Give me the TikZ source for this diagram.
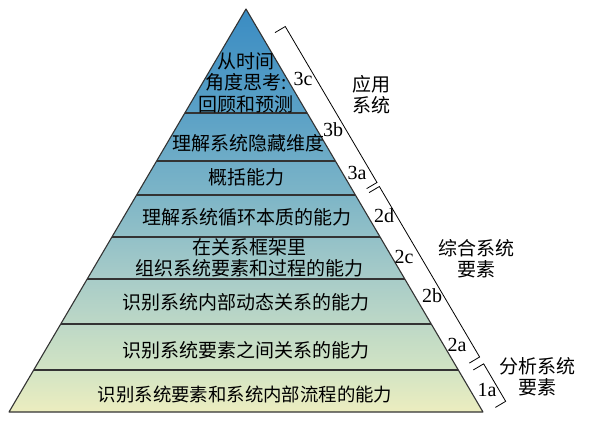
\documentclass[tikz,border=0pt]{standalone}
\usepackage{fontspec}
\setmainfont{Liberation Serif}
\newfontfamily\cjk{Noto Sans CJK SC}
\usetikzlibrary{calc}

\definecolor{pyrA}{HTML}{ECEDBF}
\definecolor{pyrB}{HTML}{D2E4C4}
\definecolor{pyrC}{HTML}{A8CCC8}
\definecolor{pyrD}{HTML}{7DB5C7}
\definecolor{pyrE}{HTML}{5BA1C6}
\definecolor{pyrF}{HTML}{3A8CC3}
\pgfdeclareverticalshading{pyrshade}{100bp}{color(0bp)=(pyrA); color(25bp)=(pyrA);
  color(30.2bp)=(pyrB); color(41.5bp)=(pyrC); color(51.9bp)=(pyrD);
  color(62.1bp)=(pyrE); color(75bp)=(pyrF); color(100bp)=(pyrF)}

\tikzset{
  layertext/.style={font=\cjk\fontsize{19}{21.5}\selectfont, align=center, inner sep=0pt},
  grouptext/.style={font=\cjk\fontsize{19}{21}\selectfont, align=center, inner sep=0pt},
  lvl/.style={font=\fontsize{20}{20}\selectfont, inner sep=0pt},
  divider/.style={draw=black!80, line width=1.1pt, line join=round},
  brk/.style={draw=black, line width=0.8pt},
}

\begin{document}
\begin{tikzpicture}[x=1pt, y=-1pt]
    \useasboundingbox (0,0) rectangle (589,422);

    % Corners of the pyramid
    \coordinate (apex) at (246,9);
    \coordinate (bl) at (9,412);
    \coordinate (br) at (483,412);

    % Shaded body
    \shade[shading=pyrshade] (apex) -- (br) -- (bl) -- cycle;

    % Layer dividers
    \foreach \h in {113,161,195,237,279,324,370} {
        \pgfmathsetmacro\tpos{(\h-9)/403}
        \draw[divider] ($(apex)!\tpos!(bl)$) -- ($(apex)!\tpos!(br)$);
    }
    \draw[divider] (apex) -- (br) -- (bl) -- cycle;

    % Layer texts
    \node[layertext] (t3c) at (246,82.5) {从时间\\角度思考:\\回顾和预测};
    \node[layertext] (t3b) at (248,143) {理解系统隐藏维度};
    \node[layertext] (t3a) at (246,177) {概括能力};
    \node[layertext] (t2d) at (247,217) {理解系统循环本质的能力};
    \node[layertext] (t2c) at (249,258) {在关系框架里\\组织系统要素和过程的能力};
    \node[layertext] (t2b) at (246,302) {识别系统内部动态关系的能力};
    \node[layertext] (t2a) at (246,350) {识别系统要素之间关系的能力};
    \node[layertext, font=\cjk\fontsize{18.4}{20}\selectfont] (t1a) at (245,395) {识别系统要素和系统内部流程的能力};

    % Level labels along the right edge
    \node[lvl] (n3c) at (303,79) {3c};
    \node[lvl] (n3b) at (333,130) {3b};
    \node[lvl] (n3a) at (357,173) {3a};
    \node[lvl] (n2d) at (384,216) {2d};
    \node[lvl] (n2c) at (404,257) {2c};
    \node[lvl] (n2b) at (432,296) {2b};
    \node[lvl] (n2a) at (457,345) {2a};
    \node[lvl] (n1a) at (487,390) {1a};

    % Group brackets
    \foreach \ta/\tb in {0.075/0.462, 0.472/0.895, 0.912/1.005}
        \draw[brk] ($(apex)!\ta!(br)+(11.2,-6.6)$) -- ($(apex)!\ta!(br)+(21.5,-12.7)$)
            -- ($(apex)!\tb!(br)+(21.5,-12.7)$) -- ($(apex)!\tb!(br)+(11.2,-6.6)$);

    % Group names
    \node[grouptext] (g3) at (371,95) {应用\\系统};
    \node[grouptext] (g2) at (476,258.5) {综合系统\\要素};
    \node[grouptext] (g1) at (537,377) {分析系统\\要素};
\end{tikzpicture}
\end{document}
